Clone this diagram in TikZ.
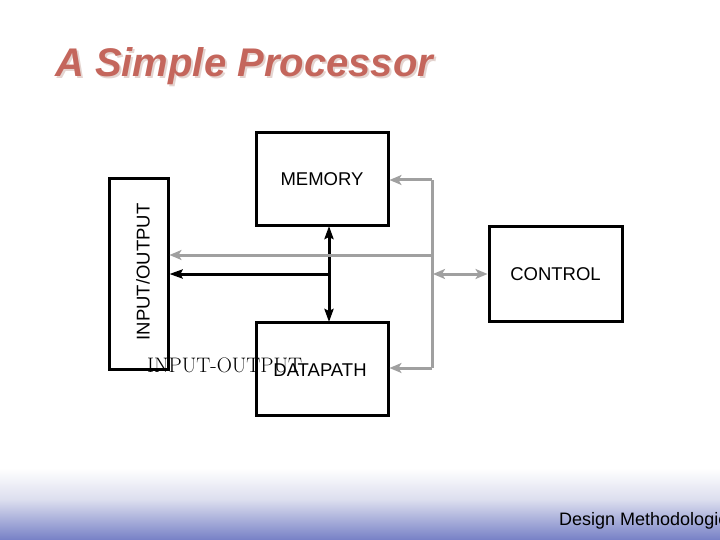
\documentclass[tikz,border=0pt]{standalone}
\usepackage{fontspec}
\setmainfont{Liberation Sans}
\newfontfamily\lmserif{Latin Modern Roman}
\usetikzlibrary{arrows.meta}
\definecolor{titlecol}{RGB}{196,102,92}
\definecolor{shadowcol}{RGB}{228,212,208}
\definecolor{graycol}{RGB}{160,160,160}
\definecolor{bluebot}{RGB}{118,128,198}
\definecolor{bluemid}{RGB}{220,222,238}
\tikzset{
  blockbox/.style={draw=black, line width=3pt, inner sep=0pt, font=\fontsize{18.5}{20}\selectfont},
  blackline/.style={draw=black, line width=3pt},
  grayline/.style={draw=graycol, line width=3pt},
  btip/.style={-{Stealth[length=13pt,width=9pt,inset=2pt]}},
  gtip/.style={-{Stealth[length=12pt,width=10pt,inset=3pt]}},
}
\begin{document}
\begin{tikzpicture}[x=1pt,y=-1pt]
\useasboundingbox (0,0) rectangle (720,540);
\begin{scope}
\clip (0,0) rectangle (720,540);
\shade[top color=white, bottom color=bluemid] (0,468) rectangle (720,500);
\shade[top color=bluemid, bottom color=bluebot] (0,499.5) rectangle (720,540);
\node[anchor=base west, inner sep=0pt, font=\fontsize{18}{20}\selectfont] (footer) at (559,525) {Design Methodologies};
\end{scope}
% title
\node[anchor=base west, inner sep=0pt, text=shadowcol, font=\fontsize{40}{44}\selectfont\bfseries\itshape] (titleshadow) at (57,79) {A Simple Processor};
\node[anchor=base west, inner sep=0pt, text=titlecol, font=\fontsize{40}{44}\selectfont\bfseries\itshape] (title) at (55,77) {A Simple Processor};
% blocks
\node[blockbox, minimum width=59pt, minimum height=190pt] (io) at (138.5,274) {};
\node[rotate=90, font=\fontsize{18.5}{20}\selectfont, inner sep=0pt] (iotext) at (143,272) {INPUT/OUTPUT};
\node[blockbox, minimum width=132pt, minimum height=93pt] (mem) at (322,179.5) {MEMORY};
\node[blockbox, minimum width=132pt, minimum height=93pt] (dp) at (322,368.5) {};
\node[blockbox, minimum width=133pt, minimum height=94pt] (ctrl) at (555.5,274) {CONTROL};
\node[font=\fontsize{18.5}{20}\selectfont, inner sep=0pt] (dptext) at (320,370) {DATAPATH};
\node[anchor=base west, inner sep=0pt, font=\fontsize{21}{24}\selectfont\lmserif] (ioolabel) at (147,372.5) {INPUT-OUTPUT};
% black connectors
\coordinate (junc) at (329,274);
\draw[blackline, {Stealth[length=13pt,width=9pt,inset=2pt]}-{Stealth[length=13pt,width=9pt,inset=2pt]}] (329,226) -- (329,322);
\draw[blackline, btip] (junc) -- (io.east |- junc);
% gray connectors
\coordinate (gtop) at (432,180);
\coordinate (gbot) at (432,368);
\coordinate (gio) at (432,255);
\coordinate (gctl) at (433,274);
\draw[grayline] (gtop) -- (gbot);
\draw[grayline, gtip] (gtop) -- (mem.east |- gtop);
\draw[grayline, gtip] (gbot) -- (dp.east |- gbot);
\draw[grayline, gtip] (gio) -- (io.east |- gio);
\draw[grayline, {Stealth[length=12pt,width=10pt,inset=3pt]}-{Stealth[length=12pt,width=10pt,inset=3pt]}] (gctl) -- (ctrl.west |- gctl);
\end{tikzpicture}
\end{document}
